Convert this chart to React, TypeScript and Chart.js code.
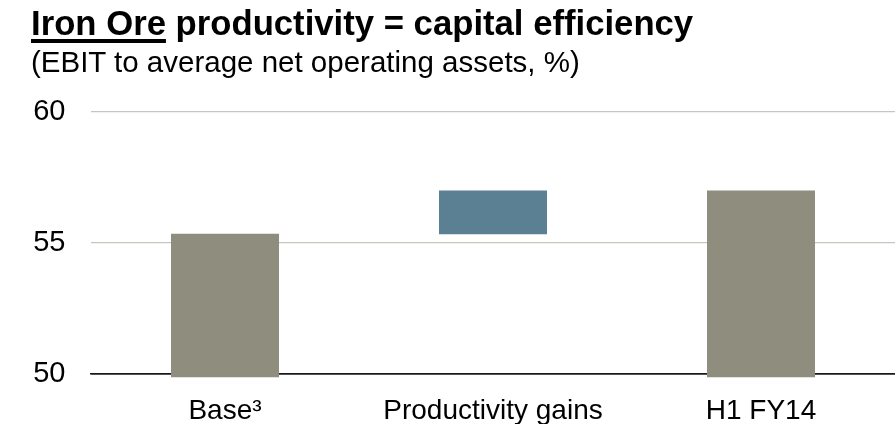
import React, { useEffect, useRef } from "react";
import { Chart, registerables } from "chart.js";

Chart.register(...registerables);

const categories = ["Base³", "Productivity gains", "H1 FY14"];
const barLow = [49.88, 55.33, 49.88];
const barHigh = [55.35, 57.0, 57.0];
const barColors = ["#8F8E7E", "#5B7F93", "#8F8E7E"];
const yTicks = [50, 55, 60];

const FONT = "'Liberation Sans', Arial, Helvetica, sans-serif";

export default function App() {
  const canvasRef = useRef<HTMLCanvasElement | null>(null);

  useEffect(() => {
    const canvas = canvasRef.current;
    if (!canvas) return;
    const chart = new Chart(canvas, {
      type: "bar",
      data: {
        labels: categories,
        datasets: [
          {
            data: categories.map((_, i) => [barLow[i], barHigh[i]]) as any,
            backgroundColor: barColors,
            borderWidth: 0,
            barPercentage: 0.403,
            categoryPercentage: 1,
            clip: false as any,
          },
        ],
      },
      options: {
        animation: false,
        responsive: false,
        maintainAspectRatio: false,
        layout: { padding: { top: 112, right: 0, bottom: 0, left: 0 } },
        plugins: {
          legend: { display: false },
          tooltip: { enabled: false },
          title: { display: false },
        },
        scales: {
          x: {
            grid: { display: false, drawTicks: false },
            border: { display: true, color: "#1a1a1a", width: 1.5 },
            ticks: {
              color: "#000",
              font: { family: FONT, size: 28 },
              padding: 20,
              maxRotation: 0,
              autoSkip: false,
            },
            afterFit: (scale: any) => {
              scale.height = 50;
            },
          },
          y: {
            min: 50,
            max: 60,
            afterBuildTicks: (scale: any) => {
              scale.ticks = yTicks.map((v) => ({ value: v }));
            },
            grid: {
              drawTicks: false,
              color: (ctx: any) =>
                ctx.tick && ctx.tick.value === 50 ? "#1a1a1a" : "#C6C6BE",
              lineWidth: (ctx: any) =>
                ctx.tick && ctx.tick.value === 50 ? 1.5 : 1.2,
            },
            border: { display: false },
            ticks: {
              color: "#000",
              font: { family: FONT, size: 29 },
              padding: 25.5,
            },
            afterFit: (scale: any) => {
              scale.width = 91;
            },
          },
        },
      },
    });
    return () => chart.destroy();
  }, []);

  return (
    <div
      style={{
        position: "fixed",
        left: 0,
        top: 0,
        width: 895,
        height: 424,
        background: "#fff",
        overflow: "hidden",
      }}
    >
      <canvas
        ref={canvasRef}
        width={895}
        height={424}
        style={{ position: "absolute", left: 0, top: 0, width: 895, height: 424 }}
      />
      <div
        style={{
          position: "absolute",
          left: 31,
          top: 5.6,
          fontFamily: FONT,
          fontWeight: "bold",
          fontSize: 34.7,
          lineHeight: "34.7px",
          color: "#000",
          whiteSpace: "nowrap",
        }}
      >
        <span
          style={{
            textDecoration: "underline",
            textDecorationThickness: "3.5px",
            textUnderlineOffset: "4px",
          }}
        >
          Iron Ore
        </span>{" "}
        productivity = capital efficiency
      </div>
      <div
        style={{
          position: "absolute",
          left: 31,
          top: 47,
          fontFamily: FONT,
          fontSize: 29.5,
          lineHeight: "29.5px",
          color: "#000",
          whiteSpace: "nowrap",
        }}
      >
        (EBIT to average net operating assets, %)
      </div>
    </div>
  );
}
